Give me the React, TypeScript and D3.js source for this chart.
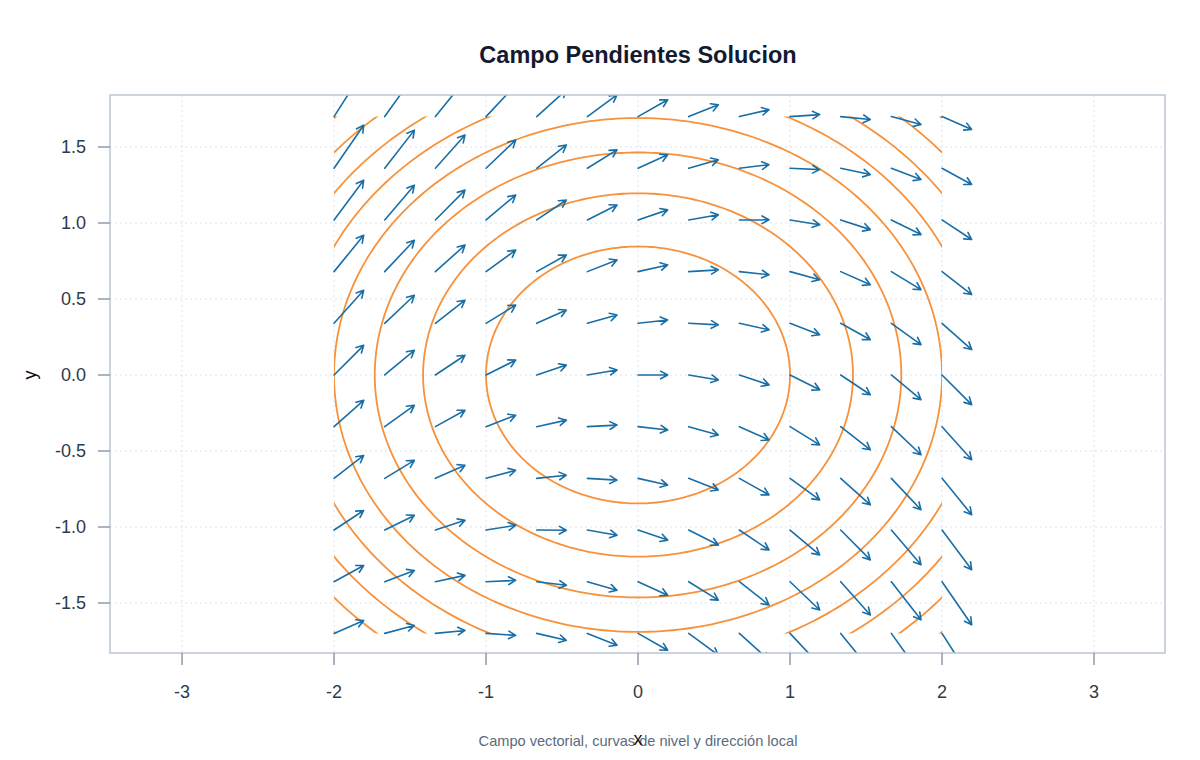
import { useEffect, useRef } from "react"
import * as d3 from "d3"

// malla del campo de pendientes
const GRID_X = [-2, -5 / 3, -4 / 3, -1, -2 / 3, -1 / 3, 0, 1 / 3, 2 / 3, 1, 4 / 3, 5 / 3, 2]
const GRID_Y = [-1.7, -1.36, -1.02, -0.68, -0.34, 0, 0.34, 0.68, 1.02, 1.36, 1.7]

// curvas de nivel F(x, y) = x^2 + 1.4 y^2
const NIVELES = [1, 2, 3, 4, 5, 6, 7, 8]
const PESO_Y = 1.4

// pendiente dy/dx = -x/2 + y/3
const COEF_X = -0.5
const COEF_Y = 1 / 3
const PASO = 0.195

const X_TICKS = [-3, -2, -1, 0, 1, 2, 3]
const Y_TICKS = [-1.5, -1, -0.5, 0, 0.5, 1, 1.5]

const WIDTH = 1200
const HEIGHT = 760
const FONT = "'Liberation Sans', Arial, Helvetica, sans-serif"

function pendiente(x: number, y: number) {
  return COEF_X * x + COEF_Y * y
}

// guion normal en vez del signo menos de d3
const fmt = (f: string) => (v: number) => d3.format(f)(v).replace("\u2212", "-")

export default function App() {
  const svgRef = useRef<SVGSVGElement>(null)

  useEffect(() => {
    if (!svgRef.current) return
    const svg = d3.select(svgRef.current)
    svg.selectAll("*").remove()

    const left = 110
    const right = 1165
    const top = 95
    const bottom = 653

    // misma escala en ambos ejes (152 px por unidad)
    const x = d3.scaleLinear().domain([-3.474, 3.467]).range([left, right])
    const y = d3.scaleLinear().domain([-1.829, 1.842]).range([bottom, top])

    svg.append("rect").attr("width", WIDTH).attr("height", HEIGHT).attr("fill", "#ffffff")

    const defs = svg.append("defs")
    defs
      .append("clipPath")
      .attr("id", "clip-plot")
      .append("rect")
      .attr("x", left)
      .attr("y", top)
      .attr("width", right - left)
      .attr("height", bottom - top)
    defs
      .append("clipPath")
      .attr("id", "clip-malla")
      .append("rect")
      .attr("x", x(d3.min(GRID_X)!))
      .attr("y", y(d3.max(GRID_Y)!))
      .attr("width", x(d3.max(GRID_X)!) - x(d3.min(GRID_X)!))
      .attr("height", y(d3.min(GRID_Y)!) - y(d3.max(GRID_Y)!))

    // rejilla punteada
    const grid = svg.append("g").attr("stroke", "#dde3ec").attr("stroke-width", 1).attr("stroke-dasharray", "2,3")
    X_TICKS.forEach((t) => {
      grid.append("line").attr("x1", x(t)).attr("x2", x(t)).attr("y1", top).attr("y2", bottom)
    })
    Y_TICKS.forEach((t) => {
      grid.append("line").attr("x1", left).attr("x2", right).attr("y1", y(t)).attr("y2", y(t))
    })

    // curvas de nivel (elipses recortadas a la malla)
    const angulos = d3.range(0, 361, 1).map((a) => (a * Math.PI) / 180)
    const linea = d3
      .line<[number, number]>()
      .x((d) => x(d[0]))
      .y((d) => y(d[1]))
    const gCurvas = svg.append("g").attr("clip-path", "url(#clip-malla)")
    NIVELES.forEach((c) => {
      const rx = Math.sqrt(c)
      const ry = Math.sqrt(c / PESO_Y)
      const pts = angulos.map((a) => [rx * Math.cos(a), ry * Math.sin(a)] as [number, number])
      gCurvas
        .append("path")
        .attr("d", linea(pts))
        .attr("fill", "none")
        .attr("stroke", "#f7913a")
        .attr("stroke-width", 1.8)
    })

    // flechas del campo
    const gFlechas = svg
      .append("g")
      .attr("clip-path", "url(#clip-plot)")
      .attr("fill", "none")
      .attr("stroke", "#1a6ea6")
      .attr("stroke-width", 1.6)
      .attr("stroke-linecap", "round")
      .attr("stroke-linejoin", "round")
    const largoPunta = 8
    const abertura = 0.5
    GRID_Y.forEach((yv) => {
      GRID_X.forEach((xv) => {
        const m = pendiente(xv, yv)
        const x1 = x(xv)
        const y1 = y(yv)
        const x2 = x(xv + PASO)
        const y2 = y(yv + PASO * m)
        const ang = Math.atan2(y2 - y1, x2 - x1)
        const pa = [x2 - largoPunta * Math.cos(ang - abertura), y2 - largoPunta * Math.sin(ang - abertura)]
        const pb = [x2 - largoPunta * Math.cos(ang + abertura), y2 - largoPunta * Math.sin(ang + abertura)]
        gFlechas
          .append("path")
          .attr("d", `M${x1},${y1}L${x2},${y2}M${pa[0]},${pa[1]}L${x2},${y2}L${pb[0]},${pb[1]}`)
      })
    })

    // marco
    svg
      .append("rect")
      .attr("x", left)
      .attr("y", top)
      .attr("width", right - left)
      .attr("height", bottom - top)
      .attr("fill", "none")
      .attr("stroke", "#bcc6d4")
      .attr("stroke-width", 1.5)

    // ticks y etiquetas
    const ticks = svg.append("g").attr("stroke", "#8a94a5").attr("stroke-width", 1.4)
    X_TICKS.forEach((t) => {
      ticks.append("line").attr("x1", x(t)).attr("x2", x(t)).attr("y1", bottom).attr("y2", bottom + 12)
      svg
        .append("text")
        .attr("x", x(t))
        .attr("y", 698)
        .attr("text-anchor", "middle")
        .attr("font-family", FONT)
        .attr("font-size", 18)
        .attr("fill", "#2f3a4b")
        .text(fmt("d")(t))
    })
    Y_TICKS.forEach((t) => {
      ticks.append("line").attr("x1", left - 12).attr("x2", left).attr("y1", y(t)).attr("y2", y(t))
      svg
        .append("text")
        .attr("x", 86)
        .attr("y", y(t))
        .attr("dy", "0.36em")
        .attr("text-anchor", "end")
        .attr("font-family", FONT)
        .attr("font-size", 18)
        .attr("fill", "#2f3a4b")
        .text(fmt(".1f")(t))
    })

    // títulos
    svg
      .append("text")
      .attr("x", 638)
      .attr("y", 63)
      .attr("text-anchor", "middle")
      .attr("font-family", FONT)
      .attr("font-size", 23.5)
      .attr("font-weight", "bold")
      .attr("fill", "#131a30")
      .text("Campo Pendientes Solucion")

    svg
      .append("text")
      .attr("x", 638)
      .attr("y", 746)
      .attr("text-anchor", "middle")
      .attr("font-family", FONT)
      .attr("font-size", 14.6)
      .attr("fill", "#5b6b80")
      .text("Campo vectorial, curvas de nivel y dirección local")

    svg
      .append("text")
      .attr("x", 638)
      .attr("y", 745)
      .attr("text-anchor", "middle")
      .attr("font-family", FONT)
      .attr("font-size", 18)
      .attr("fill", "#111111")
      .text("x")

    svg
      .append("text")
      .attr("transform", `translate(36, ${y(0)}) rotate(-90)`)
      .attr("text-anchor", "middle")
      .attr("font-family", FONT)
      .attr("font-size", 18)
      .attr("fill", "#111111")
      .text("y")
  }, [])

  return (
    <svg
      ref={svgRef}
      width={WIDTH}
      height={HEIGHT}
      style={{ position: "absolute", left: 0, top: 0, display: "block" }}
    />
  )
}
